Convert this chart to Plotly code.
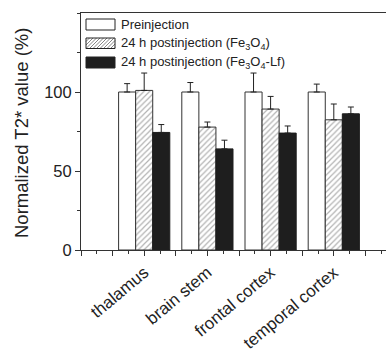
import plotly.graph_objects as go

categories = ["thalamus", "brain stem", "frontal cortex", "temporal cortex"]
series_names = ["Preinjection",
                "24 h postinjection (Fe<sub>3</sub>O<sub>4</sub>)",
                "24 h postinjection (Fe<sub>3</sub>O<sub>4</sub>-Lf)"]
pre_vals = [100, 100, 100, 100]
pre_err = [5.3, 6.0, 12.0, 5.0]
fe_vals = [101, 77.8, 89.2, 82.4]
fe_err = [11.0, 3.2, 8.0, 10.0]
lf_vals = [74.4, 64.0, 74.0, 86.2]
lf_err = [5.0, 5.5, 4.5, 4.3]
y_ticks = [0, 50, 100]
y_title = "Normalized T2* value (%)"

W, H = 387, 356
L, R, T, B = 81, 1, 13, 106
PW = W - L - R
PH = H - T - B

xpos = [i + 1 for i in range(len(categories))]
xmax = PW / 63.2

def err(a):
    return dict(type="data", array=a, arrayminus=[0] * len(a), symmetric=False,
                color="#222", thickness=1, width=3)

fig = go.Figure()
fig.add_trace(go.Bar(x=xpos, y=pre_vals, error_y=err(pre_err), name=series_names[0],
                     marker=dict(color="white", line=dict(color="#333", width=1))))
fig.add_trace(go.Bar(x=xpos, y=fe_vals, error_y=err(fe_err), name=series_names[1],
                     marker=dict(color="white", line=dict(color="#333", width=1),
                                 pattern=dict(shape="/", fgcolor="#666", bgcolor="white",
                                              size=4, solidity=0.3))))
fig.add_trace(go.Bar(x=xpos, y=lf_vals, error_y=err(lf_err), name=series_names[2],
                     marker=dict(color="#1e1e1e", line=dict(color="#1e1e1e", width=1))))

tickvals = [i * 0.5 for i in range(int(xmax * 2) + 1)]
ticktext = [categories[int(v) - 1] if (v == int(v) and 1 <= v <= len(categories)) else "" for v in tickvals]

font = "Liberation Sans, Arial, sans-serif"

def px(x):
    return (x - L) / PW

def py(y):
    return (H - B - y) / PH

shapes = []
annotations = []
rows = [(19, 30), (38, 48.5), (57, 68)]
bx0, bx1 = 86, 115
for i, (y0, y1) in enumerate(rows):
    fill = ["white", "white", "#1e1e1e"][i]
    if i == 1:
        s = bx0 - (y1 - y0)
        while s < bx1:
            xa, ya = s, y1
            xb, yb = s + (y1 - y0), y0
            if xa < bx0:
                ya = y1 - (bx0 - xa); xa = bx0
            if xb > bx1:
                yb = y0 + (xb - bx1); xb = bx1
            if xb > xa:
                shapes.append(dict(type="line", xref="paper", yref="paper",
                                   x0=px(xa), y0=py(ya), x1=px(xb), y1=py(yb),
                                   line=dict(color="#666", width=0.8), layer="above"))
            s += 3.5
    shapes.append(dict(type="rect", xref="paper", yref="paper", x0=px(bx0), x1=px(bx1),
                       y0=py(y1), y1=py(y0), fillcolor=fill if i != 1 else "rgba(0,0,0,0)",
                       line=dict(color="#222", width=1), layer="above"))
    annotations.append(dict(xref="paper", yref="paper", x=px(119), y=py((y0 + y1) / 2),
                            text=series_names[i], showarrow=False, xanchor="left",
                            yanchor="middle", font=dict(family=font, size=13, color="#222")))

annotations.append(dict(xref="paper", yref="paper", x=px(21.5), y=py(133.5), text=y_title,
                        textangle=-90, showarrow=False, xanchor="center", yanchor="middle",
                        font=dict(family=font, size=18.5, color="#222")))

fig.update_layout(
    width=W, height=H,
    margin=dict(l=L, r=R, t=T, b=B, pad=0),
    paper_bgcolor="white", plot_bgcolor="white",
    barmode="group", bargap=0.19, bargroupgap=0,
    showlegend=False,
    font=dict(family=font, color="#222"),
    shapes=shapes, annotations=annotations,
    xaxis=dict(range=[0, xmax], tickvals=tickvals, ticktext=ticktext, tickangle=-40,
               automargin=False,
               ticks="outside", ticklen=5, tickcolor="#333", showline=True, linecolor="#333",
               linewidth=1, mirror=True, showgrid=False, zeroline=False,
               tickfont=dict(size=17, family=font, color="#222"),
               minor=dict(dtick=0.25, tick0=0, ticks="outside", ticklen=3, tickcolor="#333")),
    yaxis=dict(range=[0, 150], tickvals=y_ticks, ticks="outside", ticklen=5, tickcolor="#333",
               automargin=False,
               showline=True, linecolor="#333", linewidth=1, showgrid=False, zeroline=False,
               tickfont=dict(size=16.5, family=font, color="#222"),
               minor=dict(dtick=25, tick0=0, ticks="outside", ticklen=3, tickcolor="#333")),
)

fig.write_html("out.html", config={"displayModeBar": False},
               post_script="document.body.style.margin='0';document.body.style.overflow='hidden';")
